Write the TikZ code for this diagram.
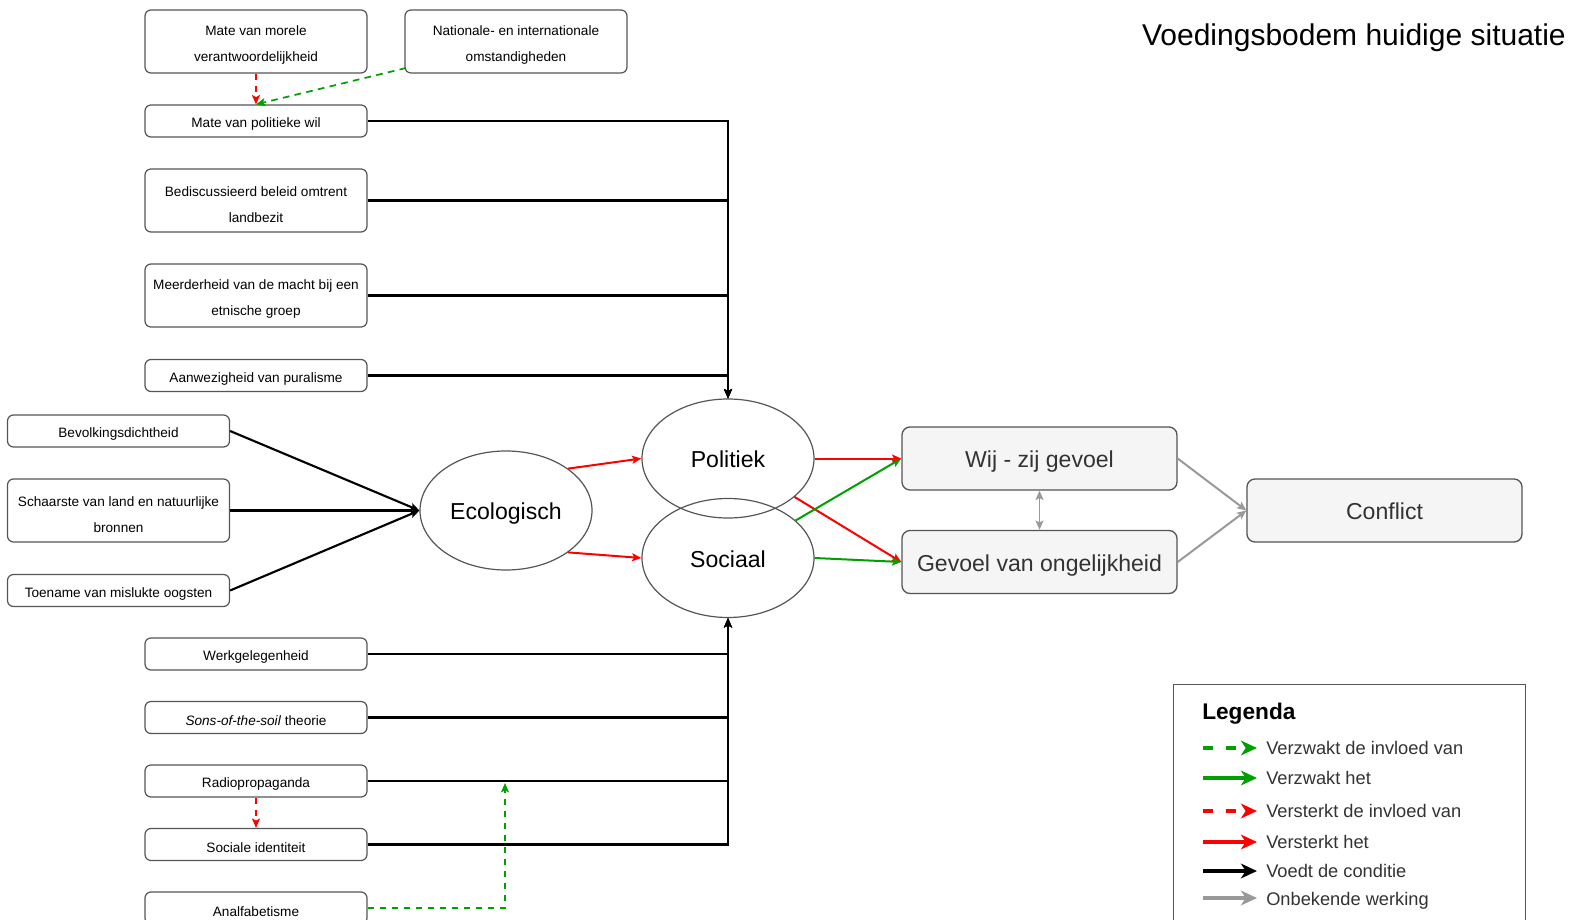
\documentclass[tikz,border=0pt]{standalone}
\usepackage{fontspec}
\setmainfont{Liberation Sans}
\usetikzlibrary{arrows.meta,shapes.geometric}
\definecolor{bd}{HTML}{555555}
\definecolor{boxfill}{HTML}{F5F5F5}
\definecolor{txt}{HTML}{333333}
\definecolor{gr}{HTML}{00A000}
\definecolor{rd}{HTML}{FF0000}
\definecolor{unkc}{HTML}{999999}
\newcommand\mytstrut{\rule{0pt}{13.2pt}}
\begin{document}
\begin{tikzpicture}[x=0.75pt,y=-0.75pt,
  sbox/.style={draw=bd, line width=0.9pt, rounded corners=4.5pt, fill=white,
    minimum width=166.5pt, minimum height=24pt, inner sep=0pt, align=center,
    font=\fontsize{10.2}{19.5}\selectfont, execute at begin node={\rule{0pt}{12.5pt}}},
  tbox/.style={sbox, minimum height=47.25pt},
  bigbox/.style={draw=bd, line width=1pt, rounded corners=6pt, fill=boxfill,
    minimum width=206.25pt, minimum height=47.25pt, inner sep=0pt,
    text height=16.6pt, text depth=2.5pt,
    font=\fontsize{17.3}{20}\selectfont, text=txt},
  ell/.style={ellipse, draw=bd, line width=0.9pt, minimum width=129pt,
    minimum height=89.25pt, inner sep=0pt, text height=16.6pt, text depth=2.5pt,
    font=\fontsize{17.3}{20}\selectfont},
  tip/.style={-{Stealth[length=7pt,width=6pt,inset=1.5pt]}},
  feed/.style={draw=black, line width=1.6pt, tip},
  strong/.style={draw=rd, line width=1.5pt, tip},
  weak/.style={draw=gr, line width=1.5pt, tip},
  strongd/.style={draw=rd, line width=1.3pt, tip, dash pattern=on 5pt off 4pt},
  weakd/.style={draw=gr, line width=1.3pt, tip, dash pattern=on 5pt off 4pt},
  unk/.style={draw=unkc, line width=1.5pt, tip},
  legtip/.style={-{Stealth[length=12pt,width=11pt,inset=3.5pt]}, line width=2.4pt},
  legdash/.style={dash pattern=on 7.5pt off 9.5pt},
  legtxt/.style={anchor=west, inner sep=0pt, text height=10pt, text depth=3pt,
    font=\fontsize{13.7}{16}\selectfont, text=txt}
]
\useasboundingbox (0,0) rectangle (1572,920);

% title
\node[anchor=east, inner sep=0pt, font=\fontsize{22.5}{27}\selectfont] (title) at (1566,37.5) {Voedingsbodem huidige situatie};

% top column
\node[tbox] (mor) at (256,41.5) {\mytstrut Mate van morele\\verantwoordelijkheid};
\node[tbox] (nat) at (516,41.5) {\mytstrut Nationale- en internationale\\omstandigheden};
\node[sbox] (wil) at (256,121) {Mate van politieke wil};
\node[tbox] (bel) at (256,200.5) {\mytstrut Bediscussieerd beleid omtrent\\landbezit};
\node[tbox] (mee) at (256,295.5) {\mytstrut Meerderheid van de macht bij een\\etnische groep};
\node[sbox] (plu) at (256,375.5) {Aanwezigheid van puralisme};

% ecological column
\node[sbox] (bev) at (118.5,431) {Bevolkingsdichtheid};
\node[tbox] (sch) at (118.5,510.5) {\mytstrut Schaarste van land en natuurlijke\\bronnen};
\node[sbox] (toe) at (118.5,590.5) {Toename van mislukte oogsten};

% bottom column
\node[sbox] (wer) at (256,654) {Werkgelegenheid};
\node[sbox] (son) at (256,717.5) {\textit{Sons-of-the-soil} theorie};
\node[sbox] (rad) at (256,781) {Radiopropaganda};
\node[sbox] (sid) at (256,844.5) {Sociale identiteit};
\node[sbox] (ana) at (256,908) {Analfabetisme};

% ellipses
\node[ell] (eco) at (506,510.5) {Ecologisch};
\node[ell] (pol) at (728,458.5) {Politiek};
\node[ell] (soc) at (728,558) {Sociaal};

% right boxes
\node[bigbox] (wij) at (1039.5,458.5) {Wij - zij gevoel};
\node[bigbox] (gev) at (1039.5,562) {Gevoel van ongelijkheid};
\node[bigbox] (con) at (1384.5,510.5) {Conflict};

% dashed influences at top
\coordinate (natout) at (406,68);
\draw[strongd] (mor.south) -- (wil.north);
\draw[weakd] (natout) -- (wil.north);

% feeds into Politiek
\foreach \n in {wil,bel,mee,plu} \draw[feed] (\n.east) -| (pol.north);
% feeds into Ecologisch
\foreach \n in {bev,sch,toe} \draw[feed] (\n.east) -- (eco.west);
% feeds into Sociaal
\foreach \n in {wer,son,rad,sid} \draw[feed] (\n.east) -| (soc.south);

% bottom dashed
\draw[strongd] (rad.south) -- (sid.north);
\coordinate (radline) at (505,783);
\draw[weakd] (ana.east) -| (radline);

% ellipse arrows
\draw[strong] (eco.34.5) -- (pol.west);
\draw[strong] (eco.-34.5) -- (soc.west);
\draw[strong] (pol.-30.3) -- (gev.west);
\draw[weak] (soc.29.6) -- (wij.west);
\draw[weak] (soc.east) -- (gev.west);
\draw[strong] (pol.east) -- (wij.west);

% to conflict
\draw[unk] (wij.east) -- (con.west);
\draw[unk] (gev.east) -- (con.west);
\draw[draw=unkc, line width=1.3pt, {Stealth[length=7pt,width=6pt,inset=1.5pt]}-{Stealth[length=7pt,width=6pt,inset=1.5pt]}] (wij.south) -- (gev.north);

% legend
\node[draw=bd, line width=0.9pt, fill=white, minimum width=264pt, minimum height=190pt, inner sep=0pt, anchor=north west] (legbox) at (1173,684) {};
\node[anchor=west, inner sep=0pt, font=\bfseries\fontsize{17}{20}\selectfont] (legt) at (1202,714) {Legenda};
\coordinate (la1) at (1203,748); \coordinate (lb1) at (1257,748);
\coordinate (la2) at (1203,778); \coordinate (lb2) at (1257,778);
\coordinate (la3) at (1203,811); \coordinate (lb3) at (1257,811);
\coordinate (la4) at (1203,842); \coordinate (lb4) at (1257,842);
\coordinate (la5) at (1203,871); \coordinate (lb5) at (1257,871);
\coordinate (la6) at (1203,898); \coordinate (lb6) at (1257,898);
\draw[legtip, draw=gr, legdash] (la1) -- (lb1);
\draw[legtip, draw=gr] (la2) -- (lb2);
\draw[legtip, draw=rd, legdash] (la3) -- (lb3);
\draw[legtip, draw=rd] (la4) -- (lb4);
\draw[legtip, draw=black] (la5) -- (lb5);
\draw[legtip, draw=unkc] (la6) -- (lb6);
\node[legtxt] (lt1) at (1266,750) {Verzwakt de invloed van};
\node[legtxt] (lt2) at (1266,780) {Verzwakt het};
\node[legtxt] (lt3) at (1266,813) {Versterkt de invloed van};
\node[legtxt] (lt4) at (1266,844) {Versterkt het};
\node[legtxt] (lt5) at (1266,873) {Voedt de conditie};
\node[legtxt] (lt6) at (1266,900.5) {Onbekende werking};
\end{tikzpicture}
\end{document}
